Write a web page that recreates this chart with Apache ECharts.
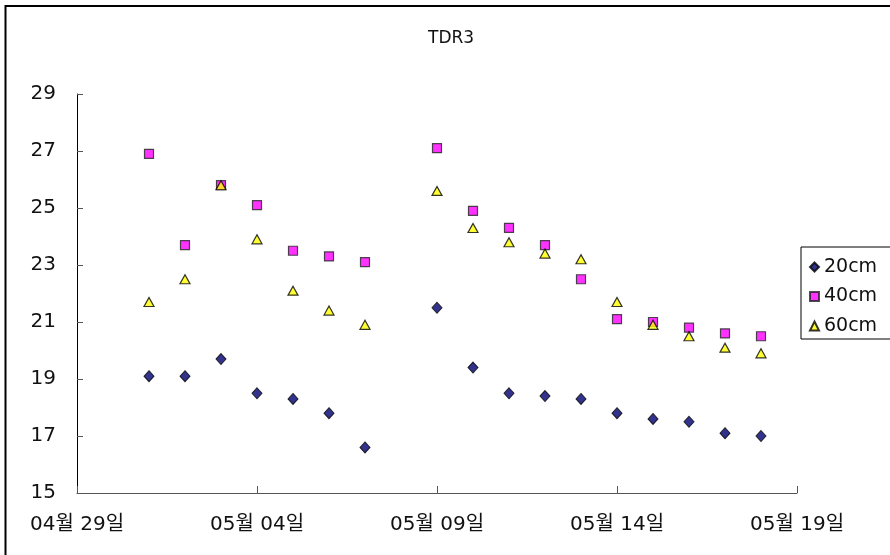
<!DOCTYPE html>
<html><head><meta charset="utf-8">
<script src="https://cdn.jsdelivr.net/npm/echarts@6/dist/echarts.min.js"></script>
<style>html,body{margin:0;padding:0;background:#fff}#c{width:890px;height:555px}</style>
</head><body><div id="c"></div>
<script>
var dates = ['05-01','05-02','05-03','05-04','05-05','05-06','05-07','05-09','05-10','05-11','05-12','05-13','05-14','05-15','05-16','05-17','05-18'];
var cm20 = [19.1,19.1,19.7,18.5,18.3,17.8,16.6,21.5,19.4,18.5,18.4,18.3,17.8,17.6,17.5,17.1,17.0];
var cm40 = [26.9,23.7,25.8,25.1,23.5,23.3,23.1,27.1,24.9,24.3,23.7,22.5,21.1,21.0,20.8,20.6,20.5];
var cm60 = [21.7,22.5,25.8,23.9,22.1,21.4,20.9,25.6,24.3,23.8,23.4,23.2,21.7,20.9,20.5,20.1,19.9];
var seriesNames = ['20cm','40cm','60cm'];
var startDate = '04-29';
var title = 'TDR3';

var DAY = 86400000;
function toMs(s){var p=s.split('-');return Date.UTC(2000,+p[0]-1,+p[1]);}
var t0 = toMs(startDate);
function dayOf(s){return Math.round((toMs(s)-t0)/DAY);}
function pad(n){return (n<10?'0':'')+n;}
function label(v){var d=new Date(t0+v*DAY);return pad(d.getUTCMonth()+1)+'월 '+pad(d.getUTCDate())+'일';}
function pts(vals){return dates.map(function(s,i){return [dayOf(s),vals[i]];});}

var FONT = '"DejaVu Sans", "Noto Sans CJK KR", sans-serif';
var chart = echarts.init(document.getElementById('c'));
chart.setOption({
  animation:false,
  backgroundColor:'#fff',
  textStyle:{fontFamily:FONT},
  title:{text:title,left:423,top:25,textStyle:{fontFamily:FONT,fontSize:17,fontWeight:'normal',color:'#111'}},
  graphic:[{type:'rect',shape:{x:5.5,y:6,width:1000,height:1000},style:{fill:'none',stroke:'#000',lineWidth:2},z:-1}],
  grid:{left:77,right:93,top:94,bottom:62,containLabel:false},
  legend:{orient:'vertical',left:801,top:247,padding:[10,30,3,8],itemGap:9.5,itemWidth:9,itemHeight:9,
    borderColor:'#000',borderWidth:1,backgroundColor:'#fff',
    textStyle:{fontFamily:FONT,fontSize:19,color:'#111',lineHeight:20},data:seriesNames},
  xAxis:{type:'value',min:0,max:20,interval:5,
    axisLine:{lineStyle:{color:'#555',width:1}},
    axisTick:{inside:true,length:7,lineStyle:{color:'#555'}},
    axisLabel:{formatter:label,fontFamily:FONT,fontSize:20,color:'#111',margin:22},
    splitLine:{show:false}},
  yAxis:{type:'value',min:15,max:29,interval:2,
    axisLine:{show:true,lineStyle:{color:'#000',width:1}},
    axisTick:{show:true,inside:true,length:6,lineStyle:{color:'#555'}},
    axisLabel:{fontFamily:FONT,fontSize:20,color:'#111',margin:21},
    splitLine:{show:false}},
  series:[
    {name:seriesNames[0],type:'scatter',symbol:'diamond',symbolSize:[10,11],data:pts(cm20),
      itemStyle:{color:'#000070',borderColor:'#000',borderWidth:1}},
    {name:seriesNames[1],type:'scatter',symbol:'rect',symbolSize:9,data:pts(cm40),
      itemStyle:{color:'#ff00ff',borderColor:'#222',borderWidth:1.2}},
    {name:seriesNames[2],type:'scatter',symbol:'triangle',symbolSize:[10,9],data:pts(cm60),
      itemStyle:{color:'#ffff00',borderColor:'#000',borderWidth:1.2}}
  ]
});
</script></body></html>
